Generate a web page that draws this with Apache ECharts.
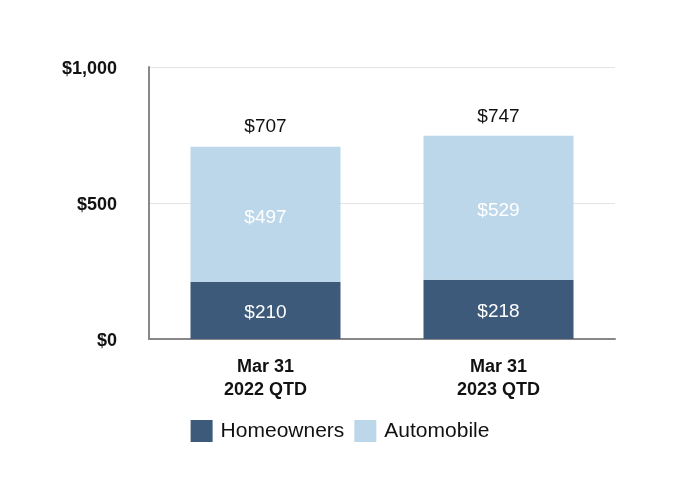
<!DOCTYPE html>
<html><head><meta charset="utf-8">
<script src="https://cdn.jsdelivr.net/npm/echarts@6/dist/echarts.min.js"></script>
<style>html,body{margin:0;padding:0;background:#fff}#c{width:680px;height:500px}</style>
</head><body><div id="c"></div>
<script>
const categories = ["Mar 31\n2022 QTD", "Mar 31\n2023 QTD"];
const homeowners = [210, 218];
const automobile = [497, 529];
const totals = [707, 747];
const yTicks = [0, 500, 1000];

const FONT = 'Liberation Sans, Arial, sans-serif';
const chart = echarts.init(document.getElementById('c'));
chart.setOption({
  animation: false,
  grid: {left: 149, right: 65, top: 67, bottom: 161},
  legend: {
    data: ['Homeowners', 'Automobile'],
    top: 420, left: 'center', padding: 0,
    itemWidth: 22, itemHeight: 22, itemGap: 10,
    icon: 'rect',
    textStyle: {fontFamily: FONT, fontSize: 21, color: '#111', padding: [0,0,0,3]}
  },
  xAxis: {
    type: 'category', data: categories,
    axisLine: {lineStyle: {color: '#888', width: 2}},
    axisTick: {show: false},
    axisLabel: {fontFamily: FONT, fontWeight: 'bold', fontSize: 18, color: '#111', margin: 17, lineHeight: 23}
  },
  yAxis: {
    type: 'value', min: 0, max: 1000, interval: 500,
    axisLine: {show: true, lineStyle: {color: '#888', width: 2}},
    axisTick: {show: false},
    splitLine: {lineStyle: {color: '#e3e3e3', width: 1}},
    axisLabel: {
      margin: 32,
      formatter: v => yTicks.includes(v) ? '{a|$' + v.toLocaleString('en-US') + '}' : '',
      rich: {a: {fontFamily: FONT, fontWeight: 'bold', fontSize: 18, color: '#111', padding: [4, 0, 0, 0]}}
    }
  },
  series: [
    {
      name: 'Homeowners', type: 'bar', stack: 's', data: homeowners, barWidth: 150,
      itemStyle: {color: '#3d5a7b'},
      label: {show: true, position: 'inside', offset: [0, 2], formatter: p => '$' + p.value, color: '#fff', fontFamily: FONT, fontSize: 19}
    },
    {
      name: 'Automobile', type: 'bar', stack: 's', data: automobile, barWidth: 150,
      itemStyle: {color: '#bcd7e9'},
      label: {show: true, position: 'inside', offset: [0, 3], formatter: p => '$' + p.value, color: '#fff', fontFamily: FONT, fontSize: 19}
    },
    {
      name: 'Total', type: 'bar', data: totals, barWidth: 150, barGap: '-100%', z: 0,
      itemStyle: {color: 'rgba(0,0,0,0)'},
      label: {show: true, position: 'top', distance: 10, formatter: p => '$' + p.value, color: '#111', fontFamily: FONT, fontSize: 19}
    }
  ]
});
</script></body></html>
